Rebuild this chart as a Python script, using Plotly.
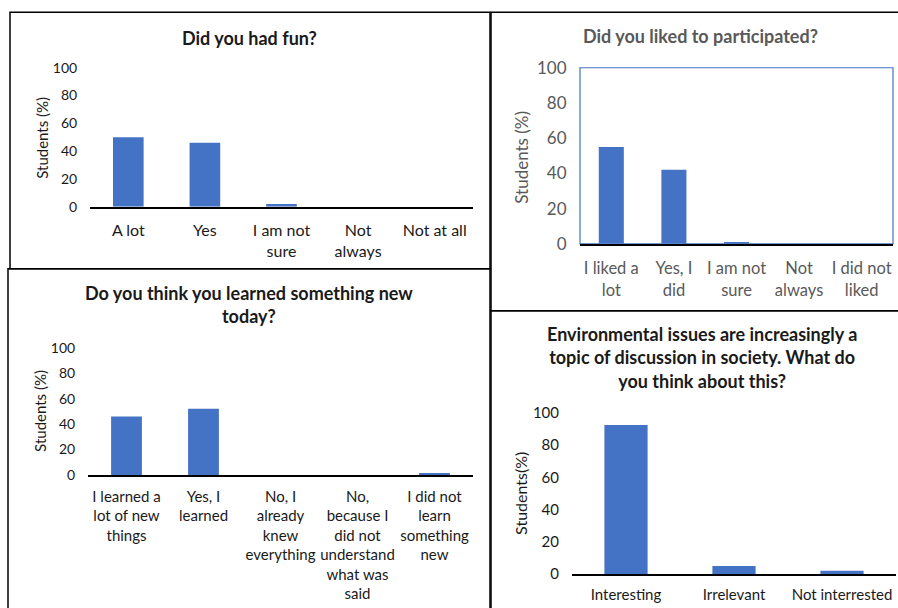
import plotly.graph_objects as go

# ---------------- data ----------------
fun_labels = ["A lot", "Yes", "I am not<br>sure", "Not<br>always", "Not at all"]
fun_values = [50, 46, 2, 0, 0]

part_labels = ["I liked a<br>lot", "Yes, I<br>did", "I am not<br>sure", "Not<br>always", "I did not<br>liked"]
part_values = [55, 42, 1, 0, 0]

learn_labels = ["I learned a<br>lot of new<br>things", "Yes, I<br>learned",
                "No, I<br>already<br>knew<br>everything",
                "No,<br>because I<br>did not<br>understand<br>what was<br>said",
                "I did not<br>learn<br>something<br>new"]
learn_values = [46, 52, 0, 0, 1.5]

env_labels = ["Interesting", "Irrelevant", "Not interrested"]
env_values = [92.5, 5, 2]

y_ticks = [0, 20, 40, 60, 80, 100]

# ---------------- layout helpers ----------------
W, H = 898, 608
# the captured page shows the figure slightly offset/compressed vertically
VOFF, VSCALE = 10.3, 0.965
FONT = "Lato"
BLUE = "#4472C4"
DARK = "#1a1a1a"
GREY = "#595959"


def fx(px):
    return px / W


def fy(py):
    return 1 - ((py - VOFF) / VSCALE) / H


panels = [
    dict(labels=fun_labels, values=fun_values, x=(90, 473), y=(67, 206),
         title="Did you had fun?", tx=249, ty=37, tcol=DARK,
         ytitle="Students (%)", ytx=42, yty=137, ytsize=15,
         yfs=14, xfs=16, xtl=8, col=DARK),
    dict(labels=part_labels, values=part_values, x=(580, 893), y=(67, 243),
         title="Did you liked to participated?", tx=700, ty=35, tcol=GREY,
         ytitle="Students (%)", ytx=522, yty=157, ytsize=17,
         yfs=17, xfs=16.5, xtl=9, col=GREY),
    dict(labels=learn_labels, values=learn_values, x=(88, 473), y=(347, 474),
         title="Do you think you learned something new<br>today?", tx=249, ty=304, tcol=DARK,
         ytitle="Students (%)", ytx=40, yty=410, ytsize=15,
         yfs=14, xfs=15, xtl=7, col=DARK),
    dict(labels=env_labels, values=env_values, x=(572, 896), y=(412, 573),
         title="Environmental issues are increasingly a<br>topic of discussion in society. What do<br>you think about this?",
         tx=702, ty=357, tcol=DARK,
         ytitle="Students(%)", ytx=521, yty=493, ytsize=16,
         yfs=15, xfs=15, xtl=6, col=DARK),
]

fig = go.Figure()
layout = dict(
    width=W, height=H, margin=dict(l=0, r=0, t=0, b=0),
    paper_bgcolor="white", plot_bgcolor="rgba(0,0,0,0)",
    showlegend=False, font=dict(family=FONT, color=DARK),
    annotations=[], shapes=[],
)

for i, p in enumerate(panels, start=1):
    sfx = "" if i == 1 else str(i)
    fig.add_trace(go.Bar(
        x=p["labels"], y=p["values"], marker=dict(color=BLUE, line=dict(width=0)),
        width=0.4, xaxis="x" + sfx, yaxis="y" + sfx, hoverinfo="skip",
    ))
    layout["xaxis" + sfx] = dict(
        domain=[fx(p["x"][0]), fx(p["x"][1])], anchor="y" + sfx,
        showline=True, linecolor="black", linewidth=1.5, showgrid=False,
        zeroline=False, ticks="outside", ticklen=p["xtl"], tickcolor="rgba(0,0,0,0)",
        tickfont=dict(family=FONT, size=p["xfs"], color=p["col"]),
        tickangle=0, fixedrange=True,
    )
    layout["yaxis" + sfx] = dict(
        domain=[fy(p["y"][1]), fy(p["y"][0])], anchor="x" + sfx,
        range=[0, 100], tickvals=y_ticks, showline=False, showgrid=False,
        zeroline=False, ticks="outside", ticklen=9, tickcolor="rgba(0,0,0,0)",
        tickfont=dict(family=FONT, size=p["yfs"], color=p["col"]), fixedrange=True,
    )
    layout["annotations"].append(dict(
        text="<b>" + p["title"].replace("<br>", "</b><br><b>") + "</b>",
        x=fx(p["tx"]), y=fy(p["ty"]), xref="paper", yref="paper",
        xanchor="center", yanchor="middle", showarrow=False,
        font=dict(family=FONT, size=18, color=p["tcol"]),
    ))
    layout["annotations"].append(dict(
        text=p["ytitle"], textangle=-90,
        x=fx(p["ytx"]), y=fy(p["yty"]), xref="paper", yref="paper",
        xanchor="center", yanchor="middle", showarrow=False,
        font=dict(family=FONT, size=p["ytsize"], color=p["col"]),
    ))

# blue plot-area border of the second chart
layout["shapes"].append(dict(
    type="rect", xref="paper", yref="paper", layer="below",
    x0=fx(580), x1=fx(893), y0=fy(243), y1=fy(67),
    line=dict(color=BLUE, width=1.2),
))

# panel frames
frames = [(10, 11.5, 490, 268), (491, 11.5, 899, 310), (8, 268, 490, 640), (491, 310, 899, 640)]
for (x0, y0, x1, y1) in frames:
    layout["shapes"].append(dict(
        type="rect", xref="paper", yref="paper", layer="above",
        x0=fx(x0), x1=fx(x1), y0=fy(y1), y1=fy(y0),
        line=dict(color="black", width=1.5),
    ))

fig.update_layout(**layout)
fig.write_html("out.html")
